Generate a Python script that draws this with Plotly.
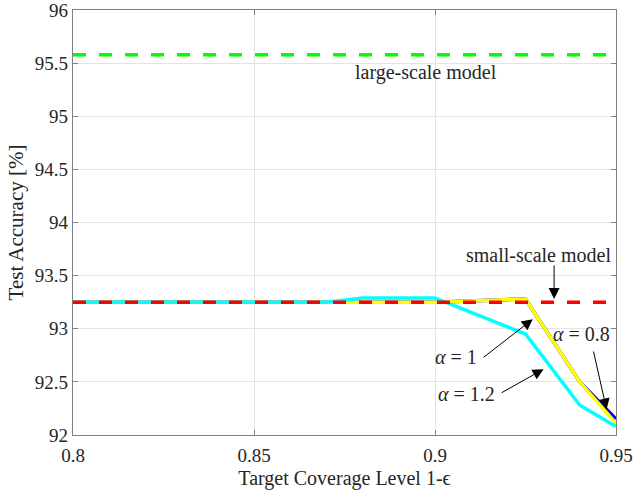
import plotly.graph_objects as go

x = [0.80, 0.85, 0.87, 0.88, 0.90, 0.925, 0.94, 0.95]
acc_alpha_08 = [93.25, 93.25, 93.25, 93.25, 93.25, 93.28, 92.50, 92.15]
acc_alpha_1 = [93.25, 93.25, 93.25, 93.25, 93.25, 93.28, 92.50, 92.11]
acc_alpha_12 = [93.25, 93.25, 93.25, 93.29, 93.29, 92.95, 92.28, 92.08]
small_scale = 93.25
large_scale = 95.58
x_range = [0.8, 0.95]
y_range = [92, 96]
x_ticks = [0.8, 0.85, 0.9, 0.95]
x_ticklabels = ["0.8", "0.85", "0.9", "0.95"]
y_ticks = [92, 92.5, 93, 93.5, 94, 94.5, 95, 95.5, 96]
y_ticklabels = ["92", "92.5", "93", "93.5", "94", "94.5", "95", "95.5", "96"]

FONT = "Liberation Serif"
TXT = "#262626"

fig = go.Figure()
fig.add_trace(go.Scatter(x=x, y=acc_alpha_08, mode="lines", line=dict(color="#0000ff", width=3.5), name="α = 0.8"))
fig.add_trace(go.Scatter(x=x, y=acc_alpha_1, mode="lines", line=dict(color="#ffff00", width=3.5), name="α = 1"))
fig.add_trace(go.Scatter(x=x, y=acc_alpha_12, mode="lines", line=dict(color="#00ffff", width=3.5), name="α = 1.2"))
fig.add_trace(go.Scatter(x=x_range, y=[small_scale, small_scale], mode="lines",
                         line=dict(color="#ff0000", width=3.5, dash="13px,13px"), name="small"))
fig.add_trace(go.Scatter(x=x_range, y=[large_scale, large_scale], mode="lines",
                         line=dict(color="#00ff00", width=3.5, dash="13px,13px"), name="large"))

ann_font = dict(family=FONT, size=20, color=TXT)
arrow = dict(showarrow=True, arrowhead=2, arrowsize=2.2, arrowwidth=1, arrowcolor="black",
             xref="x", yref="y", axref="x", ayref="y", text="")

fig.add_annotation(x=0.8975, y=95.41, text="large-scale model", showarrow=False, font=ann_font)

fig.add_annotation(x=0.9329, y=93.28, ax=0.9329, ay=93.61, **arrow)
fig.add_annotation(x=0.9287, y=93.69, text="small-scale model", showarrow=False, font=ann_font)

fig.add_annotation(x=0.9270, y=93.09, ax=0.9130, ay=92.72, **arrow)
fig.add_annotation(x=0.9058, y=92.73, text="<i>α</i> = 1", showarrow=False, font=ann_font)

fig.add_annotation(x=0.9300, y=92.62, ax=0.9180, ay=92.39, **arrow)
fig.add_annotation(x=0.9086, y=92.39, text="<i>α</i> = 1.2", showarrow=False, font=ann_font)

fig.add_annotation(x=0.9474, y=92.24, ax=0.9437, ay=92.80, **arrow)
fig.add_annotation(x=0.9406, y=92.95, text="<i>α</i> = 0.8", showarrow=False, font=ann_font)

axis_common = dict(showgrid=True, gridcolor="#e3e3e3", gridwidth=1, showline=True, linecolor="#808080",
                   linewidth=1.2, mirror="ticks", ticks="inside", ticklen=5, tickcolor="#808080",
                   zeroline=False, automargin=True, ticklabeloverflow="allow",
                   tickfont=dict(family=FONT, size=19, color=TXT))
fig.update_xaxes(range=x_range, tickvals=x_ticks, ticktext=x_ticklabels, ticklabelstandoff=3,
                 title=dict(text="Target Coverage Level 1-ϵ", font=dict(family=FONT, size=20, color=TXT), standoff=6),
                 **axis_common)
fig.update_yaxes(range=y_range, tickvals=y_ticks, ticktext=y_ticklabels,
                 title=dict(text="Test Accuracy [%]", font=dict(family=FONT, size=21, color=TXT), standoff=5),
                 **axis_common)
fig.update_layout(width=634, height=495, margin=dict(l=73, r=18, t=10, b=60, autoexpand=False),
                  plot_bgcolor="white", paper_bgcolor="white", showlegend=False)
fig.write_html("out.html", config={"displayModeBar": False},
               post_script="document.body.style.margin='0';")
